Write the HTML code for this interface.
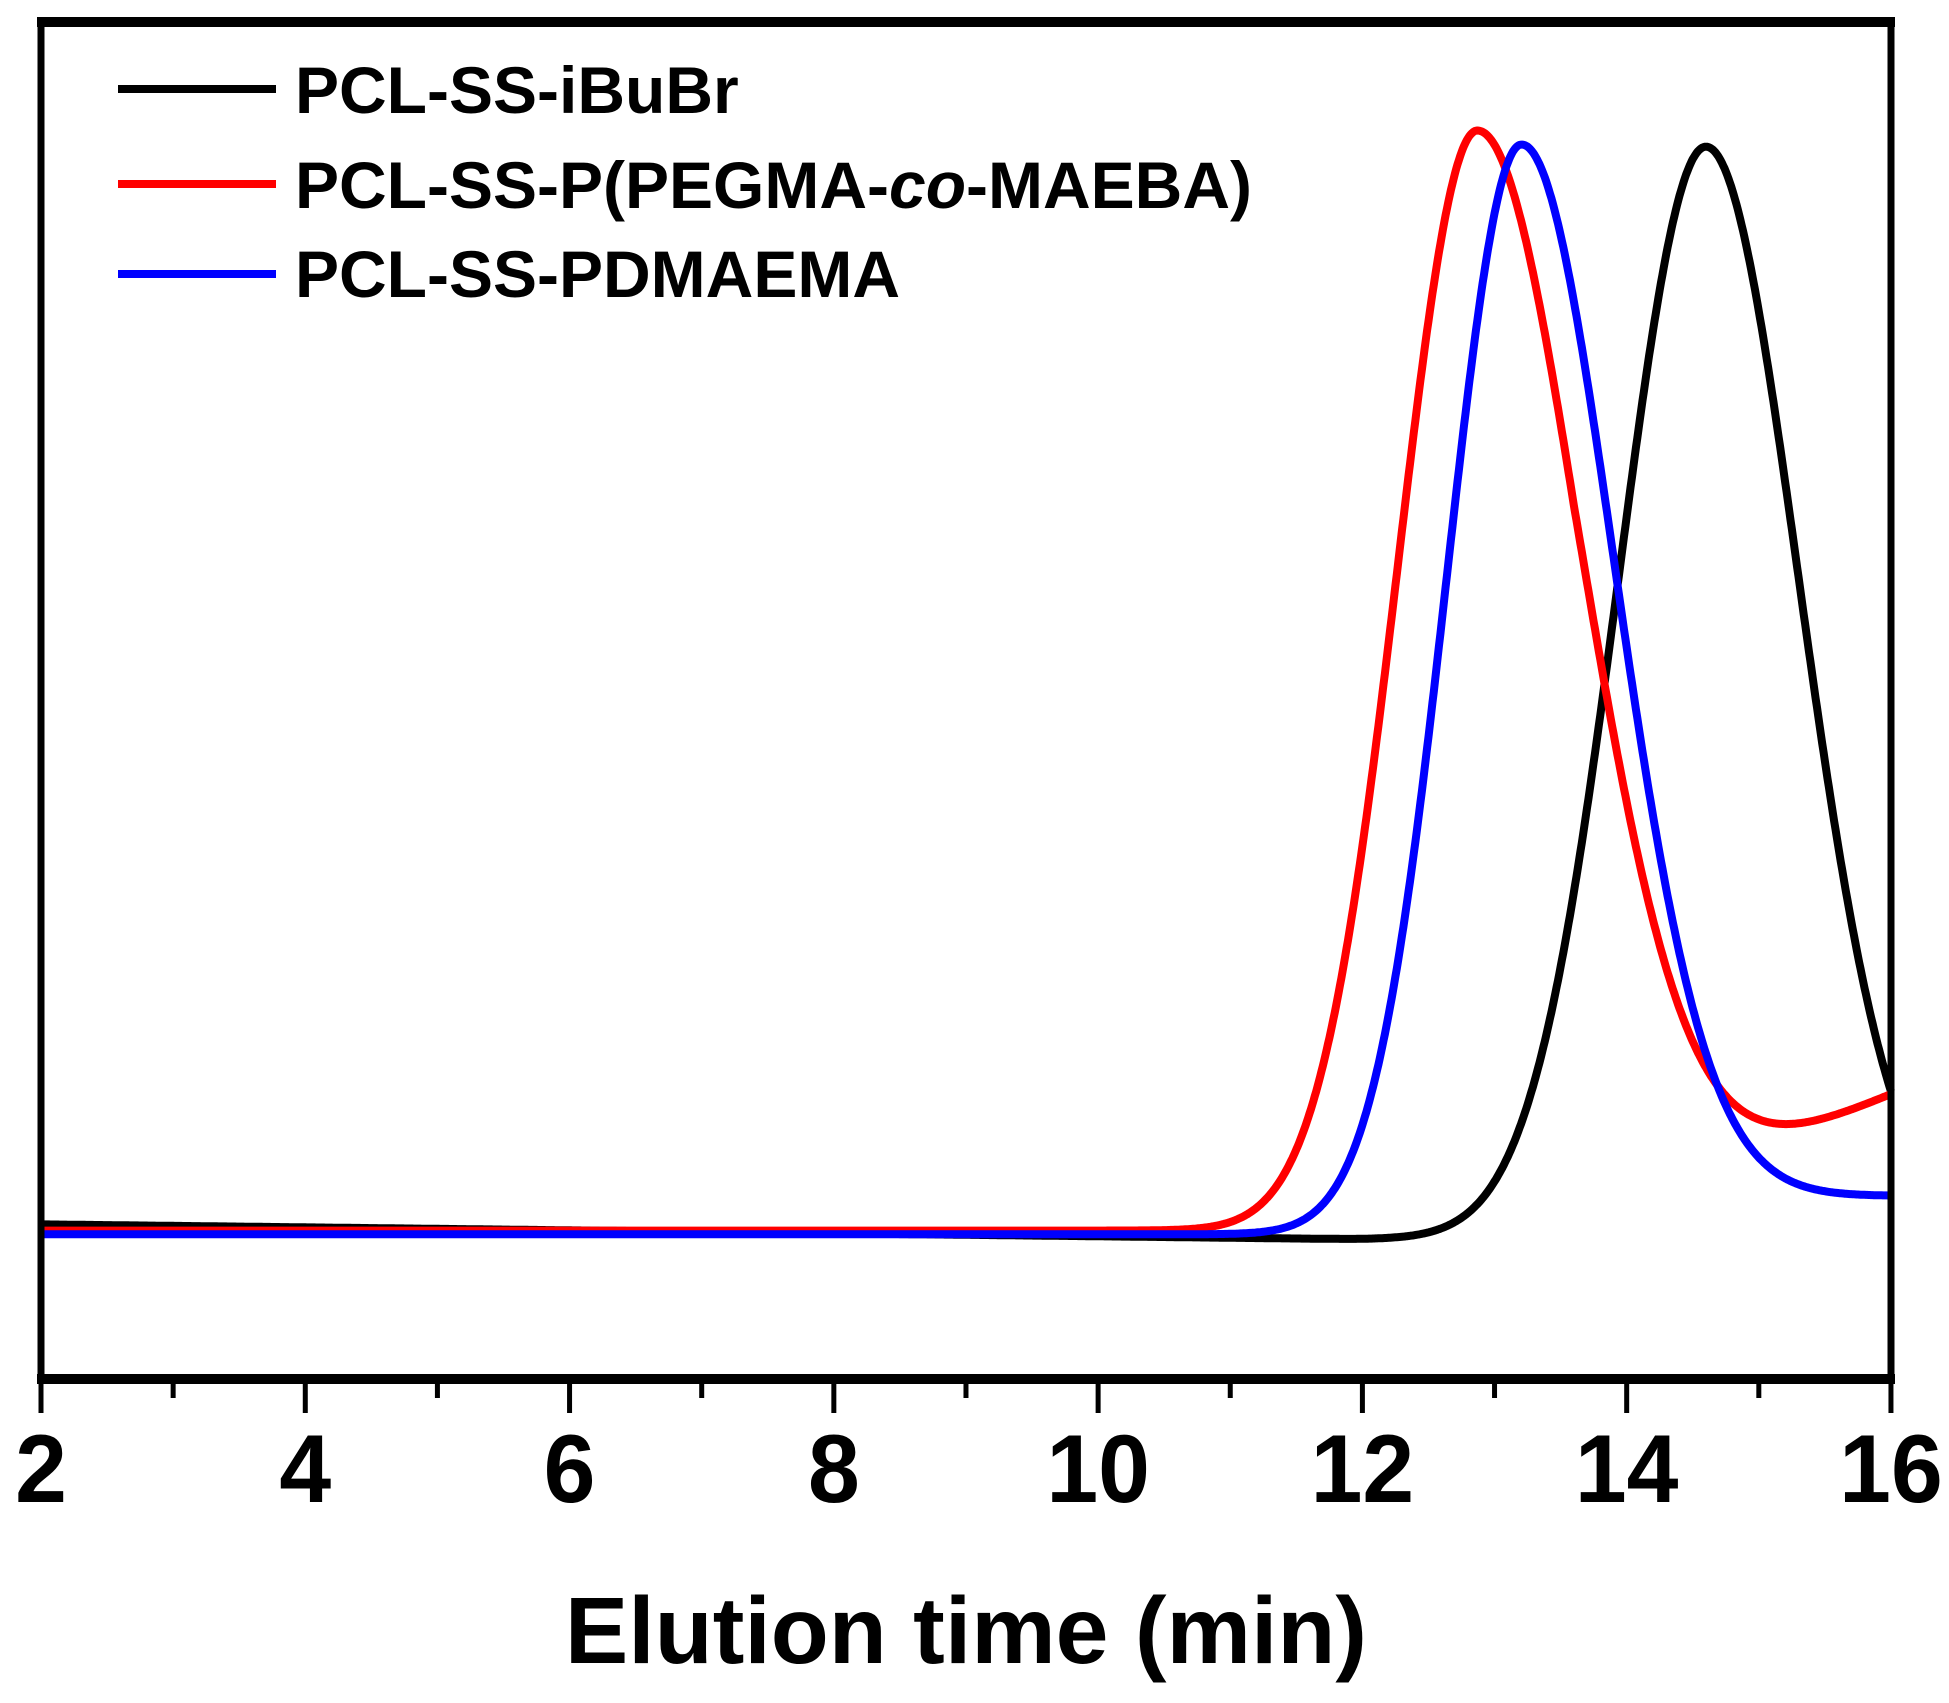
<!DOCTYPE html>
<html><head><meta charset="utf-8"><style>
html,body{margin:0;padding:0;background:#fff;}
svg{display:block;}
text{font-family:"Liberation Sans",Arial,sans-serif;font-weight:bold;fill:#000;}
</style></head><body>
<svg id="s" width="1949" height="1703" viewBox="0 0 1949 1703" xmlns="http://www.w3.org/2000/svg">
<rect width="1949" height="1703" fill="#fff"/>
<g id="curves" fill="none" stroke-width="8" stroke-linejoin="round"></g>
<line x1="41" y1="21" x2="41" y2="1379" stroke="#000" stroke-width="7"/>
<line x1="1891" y1="21" x2="1891" y2="1379" stroke="#000" stroke-width="7"/>
<line x1="37" y1="22" x2="1895" y2="22" stroke="#000" stroke-width="10"/>
<line x1="37" y1="1379" x2="1895" y2="1379" stroke="#000" stroke-width="10"/>
<g id="ticks" stroke="#000" stroke-width="5"></g>
<g id="labels" font-size="97"></g>
<text x="966" y="1663" font-size="95" text-anchor="middle" transform="translate(966 0) scale(1.0 1) translate(-966 0)">Elution time (min)</text>
<line x1="118" y1="89" x2="276" y2="89" stroke="#000" stroke-width="8"/>
<line x1="118" y1="184" x2="276" y2="184" stroke="#f00" stroke-width="8"/>
<line x1="118" y1="274" x2="276" y2="274" stroke="#00f" stroke-width="8"/>
<g font-size="66" transform="translate(295 0) scale(1.0 1)">
<text x="0" y="113">PCL-SS-iBuBr</text>
<text x="0" y="208">PCL-SS-P(PEGMA-<tspan font-style="italic">co</tspan>-MAEBA)</text>
<text x="0" y="297">PCL-SS-PDMAEMA</text>
</g>
</svg>
<script>
var S=1.243;
function X(t){return 41+(t-2)*132.14;}
function g(x,m,sl,sr){var s=x<m?sl:sr,d=(x-m)/s;return Math.exp(-0.5*d*d);}
function black(t){var b=985+Math.min(t-2,10)/10*12;return (b-(997-118)*g(t,14.6,0.66,0.70))*S;}
function red(t){var b=990;return (b-885*g(t,12.87,0.6,0.8)-Math.max(0,t-13.6)*45.6)*S;}
function blue(t){var sig=1/(1+Math.exp(-(t-13.9)/0.35));var b=993-31*sig;return (b-(993-120)*g(t,13.2,0.56,0.7))*S;}
function path(f){var d="";for(var t=2;t<=16.0001;t+=0.01){d+=(d?"L":"M")+X(t).toFixed(1)+" "+f(t).toFixed(1);}return d;}
var c=document.getElementById("curves"),ns="http://www.w3.org/2000/svg";
[[black,"#000"],[red,"#f00"],[blue,"#00f"]].forEach(function(a){var p=document.createElementNS(ns,"path");p.setAttribute("d",path(a[0]));p.setAttribute("stroke",a[1]);c.appendChild(p);});
var tk=document.getElementById("ticks"),lb=document.getElementById("labels");
for(var t=2;t<=16;t++){var x=X(t),maj=(t%2==0);var l=document.createElementNS(ns,"line");l.setAttribute("x1",x);l.setAttribute("x2",x);l.setAttribute("y1",1379);l.setAttribute("y2",maj?1413:1398);tk.appendChild(l);
if(maj){var tx=document.createElementNS(ns,"text");tx.setAttribute("x",0);tx.setAttribute("y",1502);tx.setAttribute("text-anchor","middle");tx.setAttribute("transform","translate("+x+" 0) scale(0.96 1)");tx.textContent=t;lb.appendChild(tx);}}
</script>
</body></html>
